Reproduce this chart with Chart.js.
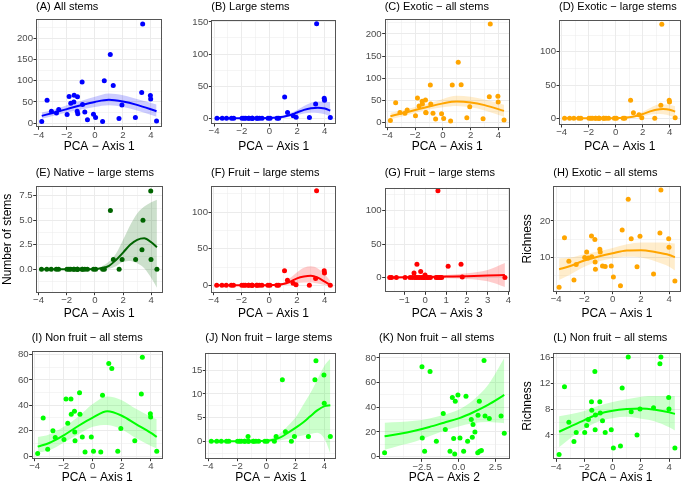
<!DOCTYPE html>
<html lang="en">
<head>
<meta charset="UTF-8">
<title>Stems and richness along PCA axes</title>
<script src="https://cdn.jsdelivr.net/npm/chart.js@4"></script>
<style>
  html, body { margin: 0; padding: 0; background: #fff; }
  #fig { position: relative; width: 685px; height: 486px; }
  .panel { position: absolute; }
</style>
</head>
<body>
<div id="fig"></div>
<script>
// site scores on PCA axis 1 (shared by most panels)
const pcaAxis1 = [-3.79, -3.41, -3.10, -2.74, -2.58, -1.98, -1.84, -1.72, -1.50, -1.48, -1.26, -1.24, -1.22,
  -0.91, -0.88, -0.72, -0.53, -0.10, 0.05, 0.55, 0.67, 1.10, 1.31, 1.72, 1.93, 2.89, 3.34, 3.41, 3.96, 3.98, 4.40];

// observed values per site, same order as pcaAxis1
const allStems      = [4, 54, 28, 24, 32, 20, 63, 47, 50, 66, 28, 62, 22, 97, 44, 26, 8, 21, 13, 4, 100, 162, 89, 11, 43, 13, 72, 234, 65, 57, 5];
const largeStems    = [0, 0, 0, 0, 0, 0, 0, 0, 0, 0, 0, 0, 0, 0, 0, 0, 0, 0, 0, 0, 0, 33, 9, 4, 1.5, 1, 22, 147, 31, 28, 1];
const exoticAll     = [4.5, 44.5, 22.6, 20.4, 28, 15, 55, 37, 47.5, 41.5, 50.6, 22.6, 22, 84.5, 41.5, 20.4, 7.5, 19.6, 9, 3, 84.5, 136, 85, 10.6, 35.5, 8.3, 58, 222.6, 59, 46, 5.3];
const exoticLarge   = [0, 0, 0, 0, 0, 0, 0, 0, 0, 0, 0, 0, 0, 0, 0, 0, 0, 0, 0, 0, 0, 27, 8.5, 5.5, 1, 0, 19.5, 141, 27, 24.5, 1];
const nativeLarge   = [0, 0, 0, 0, 0, 0, 0, 0, 0, 0, 0, 0, 0, 0, 0, 0, 0, 0, 0, 0, 0, 6, 1, 0, 1, 1, 2, 5, 8, 1, 0];
const fruitLarge    = [0, 0, 0, 0, 0, 0, 0, 0, 0, 0, 0, 0, 0, 0, 0, 0, 0, 0, 0, 0, 0, 20, 7, 3, 1, 0, 9.5, 129, 20, 17, 0];
const exoticRich    = [1.9, 15.4, 9.0, 3.9, 8.1, 10.0, 11.5, 9.9, 15.9, 10.2, 14.9, 8.8, 6.8, 12.3, 11.5, 7.7, 7.6, 7.7, 4.7, 2.3, 17.5, 25.9, 15.1, 7.5, 15.8, 5.5, 16.7, 28.4, 15.1, 12.8, 3.6];
const nonFruitAll   = [2, 30, 5.3, 20, 14.7, 13, 45, 25.8, 45, 33, 35.3, 19, 12, 50, 33, 15, 3.2, 15, 3.7, 3.2, 48, 73, 69, 3.7, 21.8, 12, 49, 78, 33.4, 30.8, 3.7];
const nonFruitLarge = [0, 0, 0, 0, 0, 0, 0, 0, 0, 0, 1, 0, 0, 0, 0, 0, 0, 0, 0, 0, 1, 13, 2, 0, 1, 1, 13, 17, 14, 8, 1];
const nonFruitRich  = [1.0, 11.45, 5.95, 3.0, 4.4, 4.4, 5.45, 6.4, 9.15, 7.8, 13.8, 4.8, 7.1, 9.15, 7.4, 6.2, 4.4, 4.8, 2.0, 2.3, 11.25, 16.05, 7.6, 4.0, 8.0, 8.2, 15.0, 16.05, 9.8, 8.0, 2.0];

// panel G: fruit large stems against PCA axis 3
const pcaAxis3   = [-1.71, -1.62, -1.39, -0.97, -0.73, -0.62, -0.54, -0.5, -0.44, -0.4, -0.35, -0.27, -0.22, -0.18, -0.1, -0.05,
  -0.01, 0.04, 0.1, 0.17, 0.25, 0.52, 0.58, 0.61, 0.66, 0.72, 0.79, 1.1, 1.72, 1.78, 3.83];
const fruitLargeG = [0, 0, 0, 0, 0, 0, 7, 0, 0, 20, 0, 0, 9, 0, 0, 0, 4, 0, 0, 0, 0, 0, 0, 130, 0, 0, 0, 17, 20, 1, 0];

// panel K: non fruit all stems against PCA axis 2
const pcaAxis2   = [-5.05, -2.5, -2.48, -2.32, -1.95, -1.52, -1.05, -0.91, -0.59, -0.43, -0.34, -0.27, -0.23, -0.05, 0.09, 0.34,
  0.5, 0.61, 0.86, 0.93, 0.98, 1.11, 1.3, 1.32, 1.41, 1.43, 1.55, 1.73, 1.8, 2.09, 2.89, 3.11];
const nonFruitAllK = [3.2, 73, 15, 4.3, 69, 12.4, 35, 22, 4.3, 48, 14.6, 2.2, 45, 50, 15, 4.3, 49, 12.4, 30, 15.7, 26, 20, 3.2, 33.5, 45, 4.3, 5, 78, 33, 31, 33, 19];

// fitted curves with confidence band
const curveA = { x: [-3.79, -3, -2, -1, 0, 1, 2, 3, 4.4], mid: [17, 24, 33, 42, 50, 55, 51, 43, 28],
  lo: [10, 17, 25, 32, 38, 42, 38, 30, 15], hi: [25, 31, 42, 52, 62, 70, 66, 57, 44] };
const curveB = { x: [-3.79, -2, -1, 0, 0.5, 1, 1.5, 2, 2.5, 3, 3.5, 4, 4.4], mid: [0, 0, 0.1, 0.4, 1, 2.2, 5, 9, 13, 15.5, 16.5, 15, 12],
  lo: [0, 0, 0, 0.1, 0.3, 0.8, 2.5, 5, 7.5, 8.5, 8, 6, 3], hi: [0.1, 0.2, 0.4, 1, 2, 4, 8, 13, 19, 24, 26, 26, 25] };
const curveC = { x: [-3.79, -3, -2, -1, 0, 1, 2, 3, 4.4], mid: [14, 20, 28, 36, 43, 47, 45, 39, 26],
  lo: [7, 13, 22, 29, 34, 37, 34, 27, 13], hi: [22, 27, 35, 43, 53, 60, 58, 52, 40] };
const curveD = { x: [-3.79, -2, -1, 0, 0.5, 1, 1.5, 2, 2.5, 3, 3.5, 4, 4.4], mid: [0, 0, 0.1, 0.3, 0.7, 1.6, 3.5, 6.5, 10, 13, 14, 13, 10],
  lo: [0, 0, 0, 0.1, 0.2, 0.6, 1.8, 3.5, 5.5, 6.5, 6, 4, 1.5], hi: [0.1, 0.2, 0.3, 0.8, 1.5, 3, 6, 10, 15, 20, 21, 20, 18] };
const curveE = { x: [-3.79, -2, -1, 0, 0.5, 1, 1.5, 2, 2.5, 3, 3.5, 4, 4.4], mid: [0, 0, 0, 0.02, 0.12, 0.35, 0.95, 1.7, 2.5, 3.0, 3.15, 2.75, 2.25],
  lo: [0, 0, 0, 0, 0.02, 0.05, 0.3, 0.75, 0.85, 0.6, 0.1, -0.9, -1.9], hi: [0, 0, 0.02, 0.08, 0.3, 0.78, 1.6, 3.0, 4.5, 5.7, 6.4, 6.85, 7.1] };
const curveF = { x: [-3.79, -2, -1, 0, 0.5, 1, 1.5, 2, 2.5, 3, 3.5, 4, 4.4], mid: [0, 0, 0, 0.2, 0.7, 1.8, 5, 9.5, 12, 13, 10.5, 5, 0.5],
  lo: [0, 0, 0, 0, 0.2, 0.5, 1.5, 3, 4, 4, 2.5, 0.5, -1], hi: [0, 0, 0.1, 0.5, 1.3, 3, 10, 18, 24, 26, 23, 15, 6] };
const curveG = { x: [-1.71, -1, 0, 1, 2, 3, 3.83], mid: [0.2, 0.5, 1, 1.6, 2.2, 3, 3.8],
  lo: [-1, -0.8, -0.5, -0.8, -2, -5.5, -14], hi: [1.6, 1.8, 2.5, 4, 6.5, 11.5, 22] };
const curveH = { x: [-3.79, -3, -2, -1, 0, 1, 2, 3, 4, 4.4], mid: [6.8, 7.7, 9.2, 10.3, 11.2, 11.9, 12.0, 11.5, 10.7, 10.1],
  lo: [3.9, 5.4, 7.5, 8.9, 9.8, 10.2, 10.0, 9.0, 7.5, 6.5], hi: [9.8, 10, 10.9, 11.7, 12.6, 13.6, 14.1, 14.1, 14.0, 13.8] };
const curveI = { x: [-3.79, -3, -2, -1, 0, 1, 2, 3, 4, 4.4], mid: [7.4, 10.3, 16.3, 23.7, 30.3, 35.3, 31.8, 25, 18.2, 15],
  lo: [2.6, 4.5, 10.5, 17, 23, 24.5, 21, 14, 8, 6], hi: [15, 17, 23, 31, 41, 47, 44, 37, 31, 29] };
const curveJ = { x: [-3.79, -2, -1, 0, 0.5, 1, 1.5, 2, 2.5, 3, 3.5, 4, 4.4], mid: [0, 0, 0.02, 0.1, 0.3, 0.85, 1.8, 2.8, 3.9, 5.2, 6.5, 7.4, 7.6],
  lo: [0, 0, 0, 0, 0.05, 0.2, 0.5, 0.9, 1.2, 1.5, 1.8, 0.5, -2.6], hi: [0, 0.1, 0.2, 0.4, 0.8, 1.8, 3.3, 5, 7.5, 10, 13, 16, 17.5] };
const curveK = { x: [-5.05, -4, -3, -2, -1, 0, 1, 2, 3.11], mid: [16.5, 18.5, 21, 24, 27.5, 31, 36, 42, 50],
  lo: [5.5, 9, 12, 16.5, 21, 24.5, 27, 28, 27], hi: [27.5, 28, 29, 31, 34, 38, 46, 58, 80] };
const curveL = { x: [-3.79, -3, -2, -1, 0, 1, 2, 3, 4, 4.4], mid: [4.5, 5.3, 6.3, 7.25, 7.75, 8.0, 8.1, 7.9, 7.5, 7.25],
  lo: [2.1, 3.5, 5.0, 6.1, 6.6, 6.8, 6.5, 6.1, 5.2, 4.7], hi: [6.9, 7.2, 7.7, 8.5, 9.1, 9.5, 9.9, 10, 10, 10] };

// tick values and labels
const axis1Ticks = [-4, -2, 0, 2, 4], axis1Labels = ['−4', '−2', '0', '2', '4'], axis1Minor = [-3, -1, 1, 3];
const axis2Ticks = [-2.5, 0, 2.5], axis2Labels = ['−2.5', '0.0', '2.5'], axis2Minor = [-3.75, -1.25, 1.25];
const axis3Ticks = [-1, 0, 1, 2, 3, 4], axis3Labels = ['−1', '0', '1', '2', '3', '4'], axis3Minor = [-1.5, -0.5, 0.5, 1.5, 2.5, 3.5];
const ticks200 = [0, 50, 100, 150, 200], minor200 = [25, 75, 125, 175, 225];
const ticks150 = [0, 50, 100, 150], ticks100 = [0, 50, 100], minor150 = [25, 75, 125];
const ticksNative = [0, 2.5, 5, 7.5], labelsNative = ['0.0', '2.5', '5.0', '7.5'], minorNative = [-1.25, 1.25, 3.75, 6.25];
const ticksRichH = [10, 20], minorRichH = [5, 15, 25];
const ticks80 = [0, 20, 40, 60, 80], minor80 = [10, 30, 50, 70];
const ticks15 = [0, 5, 10, 15], minor15 = [-2.5, 2.5, 7.5, 12.5];
const ticksRichL = [4, 8, 12, 16], minorRichL = [2, 6, 10, 14];

const FONT = '"Liberation Sans", Arial, sans-serif';
const BLUE = '#0000FF', ORANGE = '#FFA500', DKGREEN = '#006400', RED = '#FF0000', GREEN = '#00FF00';
const AX1 = 'PCA − Axis 1';

// grid of panel boxes
const colX = [0, 171, 343, 514], colW = [171, 172, 171, 171];
const rowY = [0, 160, 322], rowH = [154, 161, 163];
const titleY = [6.5, 172.5, 338];

const panels = [
  { title: '(A) All stems', color: BLUE, x: pcaAxis1, y: allStems, curve: curveA,
    xt: [axis1Ticks, axis1Labels, axis1Minor, -4.2, 4.81, AX1], yt: [ticks200, null, minor200, -10, 246],
    plot: [36, 19, 162.3, 127.3] },
  { title: '(B) Large stems', color: BLUE, x: pcaAxis1, y: largeStems, curve: curveB,
    xt: [axis1Ticks, axis1Labels, axis1Minor, -4.2, 4.81, AX1], yt: [ticks150, null, minor150, -9, 153],
    plot: [211.3, 20, 336, 124] },
  { title: '(C) Exotic − all stems', color: ORANGE, x: pcaAxis1, y: exoticAll, curve: curveC,
    xt: [axis1Ticks, axis1Labels, axis1Minor, -4.2, 4.81, AX1], yt: [ticks200, null, minor200, -12, 233],
    plot: [384.7, 19.3, 509.7, 127.7] },
  { title: '(D) Exotic − large stems', color: ORANGE, x: pcaAxis1, y: exoticLarge, curve: curveD,
    xt: [axis1Ticks, axis1Labels, axis1Minor, -4.2, 4.81, AX1], yt: [ticks100, null, minor150, -10, 147.5],
    plot: [559, 20, 680.7, 125] },
  { title: '(E) Native − large stems', color: DKGREEN, x: pcaAxis1, y: nativeLarge, curve: curveE,
    xt: [axis1Ticks, axis1Labels, axis1Minor, -4.2, 4.81, AX1], yt: [ticksNative, labelsNative, minorNative, -2.4, 8.5, 'Number of stems', 0],
    plot: [35.7, 186, 162.7, 292.7] },
  { title: '(F) Fruit − large stems', color: RED, x: pcaAxis1, y: fruitLarge, curve: curveF,
    xt: [axis1Ticks, axis1Labels, axis1Minor, -4.2, 4.81, AX1], yt: [ticks100, null, minor150, -10, 135.5],
    plot: [211, 186, 336, 292.7] },
  { title: '(G) Fruit − large stems', color: RED, x: pcaAxis3, y: fruitLargeG, curve: curveG,
    xt: [axis3Ticks, axis3Labels, axis3Minor, -1.95, 4.06, 'PCA − Axis 3'], yt: [ticks100, null, minor150, -22, 134.5],
    plot: [384.7, 187.7, 509.7, 292.3] },
  { title: '(H) Exotic − all stems', color: ORANGE, x: pcaAxis1, y: exoticRich, curve: curveH,
    xt: [axis1Ticks, axis1Labels, axis1Minor, -4.2, 4.81, AX1], yt: [ticksRichH, null, minorRichH, 0.7, 29.5, 'Richness', 6],
    plot: [553.3, 186, 680.7, 291.7] },
  { title: '(I) Non fruit − all stems', color: GREEN, x: pcaAxis1, y: nonFruitAll, curve: curveI,
    xt: [axis1Ticks, axis1Labels, axis1Minor, -4.2, 4.81, AX1], yt: [ticks80, null, minor80, -2.1, 82.6],
    plot: [31.7, 351.3, 162.7, 458.7] },
  { title: '(J) Non fruit − large stems', color: GREEN, x: pcaAxis1, y: nonFruitLarge, curve: curveJ,
    xt: [axis1Ticks, axis1Labels, axis1Minor, -4.2, 4.81, AX1], yt: [ticks15, null, minor15, -3.7, 18.7],
    plot: [205.3, 352.7, 336.3, 458.7] },
  { title: '(K) Non fruit − all stems', color: GREEN, x: pcaAxis2, y: nonFruitAllK, curve: curveK,
    xt: [axis2Ticks, axis2Labels, axis2Minor, -5.43, 3.48, 'PCA − Axis 2'], yt: [ticks80, null, minor80, -2.2, 84.3],
    plot: [379, 352.7, 509.7, 459.3] },
  { title: '(L) Non fruit − all stems', color: GREEN, x: pcaAxis1, y: nonFruitRich, curve: curveL,
    xt: [axis1Ticks, axis1Labels, axis1Minor, -4.2, 4.81, AX1], yt: [ticksRichL, null, minorRichL, 0.25, 16.7, 'Richness', 6],
    plot: [553.3, 352.7, 680.7, 459.3] }
];

// panel title + frame drawn over everything, like theme_bw
const panelDeco = {
  id: 'panelDeco',
  afterDraw(chart, args, opts) {
    const { ctx, chartArea: a } = chart;
    ctx.save();
    ctx.strokeStyle = '#555555';
    ctx.lineWidth = 1;
    const l = Math.round(a.left) + 0.5, t = Math.round(a.top) + 0.5;
    const r = Math.round(a.right) - 0.5, b = Math.round(a.bottom) - 0.5;
    ctx.strokeRect(l, t, r - l, b - t);
    ctx.fillStyle = '#000';
    ctx.font = '11px ' + FONT;
    ctx.textBaseline = 'middle';
    ctx.textAlign = 'left';
    ctx.fillText(opts.text, a.left, opts.y);
    ctx.restore();
  }
};

function hexAlpha(hex, a) {
  const n = parseInt(hex.slice(1), 16);
  return `rgba(${n >> 16}, ${(n >> 8) & 255}, ${n & 255}, ${a})`;
}

function axis(spec, fitFn) {
  const [major, labels, minor, min, max, title, titlePad] = spec;
  const all = major.concat(minor);
  const isMajor = v => major.indexOf(v) >= 0;
  return {
    type: 'linear', min, max,
    afterBuildTicks: ax => { ax.ticks = all.map(v => ({ value: v })); },
    afterFit: fitFn,
    ticks: {
      autoSkip: false, maxRotation: 0, padding: 0.5, color: '#4D4D4D',
      font: { family: FONT, size: 9.6, lineHeight: 1 },
      callback: v => {
        const k = major.indexOf(v);
        if (k < 0) return '';
        return labels ? labels[k] : String(v);
      }
    },
    grid: {
      color: '#EBEBEB',
      lineWidth: c => (c.tick && isMajor(c.tick.value)) ? 1 : 0.5,
      tickColor: c => (c.tick && isMajor(c.tick.value)) ? '#333333' : 'rgba(0,0,0,0)',
      tickLength: 2.5, tickWidth: 1
    },
    border: { display: false },
    title: title ? {
      display: true, text: title, color: '#000',
      font: { family: FONT, size: 12, lineHeight: 1.2 },
      padding: { top: titlePad || 0, bottom: 0 }
    } : { display: false }
  };
}

const fig = document.getElementById('fig');

panels.forEach((p, i) => {
  const col = i % 4, row = Math.floor(i / 4);
  const bx = colX[col], by = rowY[row], bw = colW[col], bh = rowH[row];
  const div = document.createElement('div');
  div.className = 'panel';
  div.style.left = bx + 'px';
  div.style.top = by + 'px';
  div.style.width = bw + 'px';
  div.style.height = bh + 'px';
  const cv = document.createElement('canvas');
  div.appendChild(cv);
  fig.appendChild(div);

  const [pl, pt, pr, pb] = p.plot;
  const c = p.curve;
  const pts = arr => c.x.map((v, k) => ({ x: v, y: arr[k] }));
  const band = hexAlpha(p.color, 0.2);

  new Chart(cv, {
    type: 'scatter',
    data: {
      datasets: [
        { type: 'line', data: pts(c.mid), borderColor: p.color, borderWidth: 2, pointRadius: 0,
          cubicInterpolationMode: 'monotone', fill: false },
        { data: p.x.map((v, k) => ({ x: v, y: p.y[k] })), backgroundColor: p.color,
          borderWidth: 0, pointRadius: 2.5 },
        { type: 'line', data: pts(c.hi), borderColor: 'transparent', borderWidth: 0, pointRadius: 0,
          cubicInterpolationMode: 'monotone', fill: '+1', backgroundColor: band },
        { type: 'line', data: pts(c.lo), borderColor: 'transparent', borderWidth: 0, pointRadius: 0,
          cubicInterpolationMode: 'monotone', fill: false }
      ]
    },
    options: {
      responsive: true,
      maintainAspectRatio: false,
      animation: false,
      layout: { padding: { top: pt - by, right: bx + bw - pr, left: 0, bottom: 0 } },
      plugins: {
        legend: { display: false },
        tooltip: { enabled: false },
        panelDeco: { text: p.title, y: titleY[row] - by }
      },
      scales: {
        x: axis(p.xt, s => { s.height = by + bh - pb; }),
        y: axis(p.yt, s => { s.width = pl - bx; })
      }
    },
    plugins: [panelDeco]
  });
});
</script>
</body>
</html>
